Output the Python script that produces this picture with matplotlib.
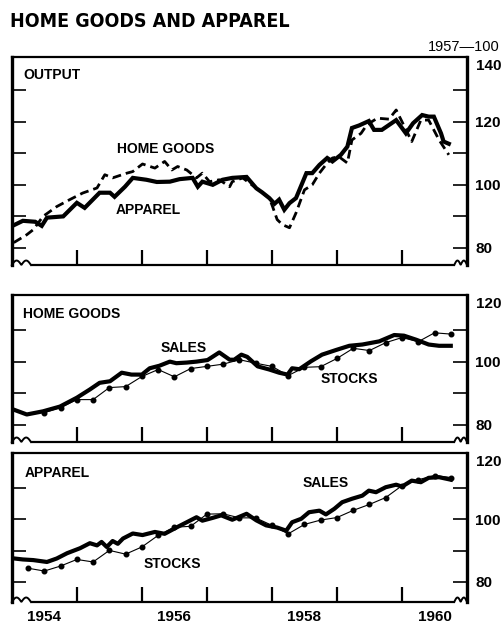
import numpy as np
import matplotlib
matplotlib.use("Agg")
import matplotlib.pyplot as plt
from matplotlib.ticker import FixedLocator, NullFormatter

plt.rcParams["font.family"] = ["Liberation Sans", "DejaVu Sans"]

# ---- data (index, 1957 = 100) ----
out_apparel_t = [1954.05, 1954.17, 1954.36, 1954.46, 1954.54, 1954.79, 1955.00, 1955.12,
                 1955.35, 1955.51, 1955.58, 1955.74, 1955.86, 1956.07, 1956.23, 1956.43,
                 1956.58, 1956.78, 1956.86, 1956.93, 1957.09, 1957.24, 1957.39, 1957.61,
                 1957.76, 1957.85, 1957.96, 1958.04, 1958.11, 1958.19, 1958.27, 1958.37,
                 1958.53, 1958.62, 1958.73, 1958.85, 1958.93, 1959.06, 1959.16, 1959.23,
                 1959.34, 1959.49, 1959.57, 1959.69, 1959.91, 1960.06, 1960.17, 1960.31,
                 1960.41, 1960.49, 1960.60, 1960.64, 1960.72]
out_apparel = [87.4, 88.6, 88.3, 87.0, 89.6, 90.0, 94.3, 92.7,
               97.5, 97.5, 96.2, 99.4, 102.2, 101.6, 100.9, 101.0,
               101.8, 102.2, 99.4, 101.0, 100.0, 101.6, 102.2, 102.5,
               98.9, 97.6, 95.8, 94.0, 95.3, 92.1, 94.2, 95.8,
               103.7, 103.7, 106.3, 108.5, 107.4, 109.5, 112.1, 118.0,
               118.8, 120.2, 117.4, 117.4, 120.5, 116.3, 119.5, 122.1,
               121.6, 121.6, 116.3, 113.7, 113.0]

out_home_t = [1954.03, 1954.23, 1954.33, 1954.48, 1954.69, 1954.89, 1955.09, 1955.31,
              1955.43, 1955.55, 1955.77, 1955.86, 1956.01, 1956.20, 1956.35, 1956.46,
              1956.55, 1956.69, 1956.84, 1956.93, 1957.04, 1957.19, 1957.35, 1957.39,
              1957.55, 1957.76, 1957.96, 1958.01, 1958.08, 1958.16, 1958.27, 1958.37,
              1958.50, 1958.62, 1958.73, 1958.85, 1958.93, 1959.03, 1959.16, 1959.23,
              1959.37, 1959.46, 1959.62, 1959.80, 1959.91, 1960.00, 1960.15, 1960.29,
              1960.41, 1960.57, 1960.72]
out_home = [81.7, 84.2, 85.8, 90.0, 93.1, 95.3, 97.4, 99.0,
            103.2, 102.2, 103.7, 104.2, 106.6, 105.3, 107.4, 104.7,
            105.8, 104.7, 102.2, 103.7, 101.0, 101.6, 99.4, 101.0,
            102.2, 98.9, 95.8, 93.1, 89.0, 87.4, 86.4, 91.1,
            98.4, 100.0, 103.7, 106.9, 108.5, 108.9, 106.9, 114.2,
            116.3, 119.0, 121.1, 120.8, 123.7, 120.0, 113.7, 120.5,
            120.5, 114.2, 109.5]

hg_sales_t = [1954.02, 1954.23, 1954.48, 1954.74, 1955.00, 1955.20, 1955.35, 1955.51,
              1955.69, 1955.84, 1956.00, 1956.12, 1956.27, 1956.43, 1956.53, 1956.69,
              1956.84, 1957.01, 1957.19, 1957.35, 1957.42, 1957.53, 1957.62, 1957.78,
              1957.96, 1958.11, 1958.24, 1958.31, 1958.42, 1958.60, 1958.77, 1958.99,
              1959.19, 1959.39, 1959.65, 1959.88, 1960.03, 1960.22, 1960.41, 1960.57,
              1960.75]
hg_sales = [84.9, 83.3, 84.3, 85.8, 88.6, 91.2, 93.3, 93.8,
            96.5, 95.9, 95.9, 97.9, 98.7, 100.0, 99.5, 99.7,
            100.0, 100.5, 102.9, 100.6, 100.6, 102.2, 101.5, 98.5,
            97.5, 96.5, 95.9, 97.9, 97.6, 100.1, 102.2, 103.7,
            105.0, 105.4, 106.4, 108.4, 108.2, 106.9, 105.4, 105.0,
            105.0]

hg_stocks_t = [1954.50, 1954.75, 1955.00, 1955.25, 1955.50, 1955.75, 1956.00, 1956.25,
               1956.50, 1956.75, 1957.00, 1957.25, 1957.50, 1957.75, 1958.00, 1958.25,
               1958.50, 1958.75, 1959.00, 1959.25, 1959.50, 1959.75, 1960.00, 1960.25,
               1960.50, 1960.75]
hg_stocks = [83.9, 85.5, 88.0, 88.0, 91.8, 92.1, 95.3, 97.5,
             95.2, 97.8, 98.5, 99.2, 100.6, 99.5, 98.5, 95.6,
             98.2, 98.4, 101.0, 104.2, 103.5, 106.0, 107.6, 106.3,
             109.1, 108.7]

ap_sales_t = [1954.00, 1954.17, 1954.33, 1954.54, 1954.69, 1954.85, 1955.05, 1955.20,
              1955.31, 1955.38, 1955.46, 1955.55, 1955.63, 1955.71, 1955.86, 1956.01,
              1956.20, 1956.35, 1956.53, 1956.69, 1956.84, 1956.93, 1957.09, 1957.22,
              1957.39, 1957.61, 1957.76, 1957.91, 1958.08, 1958.22, 1958.31, 1958.45,
              1958.57, 1958.73, 1958.83, 1958.96, 1959.08, 1959.23, 1959.39, 1959.49,
              1959.60, 1959.75, 1959.91, 1960.00, 1960.15, 1960.29, 1960.41, 1960.57,
              1960.75]
ap_sales = [87.6, 87.2, 87.0, 86.4, 87.5, 89.2, 90.8, 92.4,
            91.7, 92.8, 91.2, 93.1, 92.2, 93.9, 95.5, 95.0,
            96.0, 95.4, 97.4, 99.1, 100.7, 99.6, 100.5, 101.3,
            99.9, 101.8, 99.7, 98.1, 97.4, 96.4, 99.1, 100.2,
            102.3, 102.8, 101.6, 103.4, 105.5, 106.6, 107.6, 109.2,
            108.7, 110.3, 111.1, 110.5, 112.4, 111.9, 113.3, 113.5,
            112.7]

ap_stocks_t = [1954.25, 1954.50, 1954.75, 1955.00, 1955.25, 1955.50, 1955.75, 1956.00,
               1956.25, 1956.50, 1956.75, 1957.00, 1957.25, 1957.50, 1957.75, 1958.00,
               1958.25, 1958.50, 1958.75, 1959.00, 1959.25, 1959.50, 1959.75, 1960.00,
               1960.25, 1960.50, 1960.75]
ap_stocks = [84.4, 83.5, 85.1, 87.2, 86.4, 90.1, 88.9, 91.2,
             94.9, 97.5, 97.8, 101.7, 101.8, 100.5, 100.5, 98.1,
             95.4, 98.4, 99.8, 100.6, 102.9, 104.8, 107.0, 110.8,
             112.7, 114.0, 113.4]

year_ticks = [1955, 1956, 1957, 1958, 1959, 1960]
year_labels = ["1954", "1956", "1958", "1960"]


def style_panel(ax, ylim, major, minor, top_label, top_label_y, show_years=False):
    ax.set_xlim(1954.0, 1961.0)
    ax.set_ylim(*ylim)
    for side in ("left", "right"):
        ax.spines[side].set_linewidth(2.4)
    ax.spines["top"].set_linewidth(1.6)
    ax.spines["bottom"].set_visible(False)

    ax.yaxis.set_major_locator(FixedLocator(major))
    ax.yaxis.set_minor_locator(FixedLocator(minor))
    ax.tick_params(axis="y", which="both", direction="in", left=True, right=True,
                   labelleft=False, labelright=True, length=10, width=1.2, pad=6)
    for lab in ax.get_yticklabels():
        lab.set_fontweight("bold")
        lab.set_fontsize(11)
    ax.text(1.0, top_label_y, top_label, transform=ax.get_yaxis_transform(),
            ha="left", va="center", fontsize=11, fontweight="bold")
    # push the extra top label off the spine like the tick labels
    ax.texts[-1].set_x(1.0 + 8.5 / (ax.get_position().width * 503))

    ax.xaxis.set_major_locator(FixedLocator(year_ticks))
    ax.xaxis.set_major_formatter(NullFormatter())
    ax.tick_params(axis="x", which="major", direction="in", bottom=True, top=False,
                   length=11, width=1.6)
    if show_years:
        ax.xaxis.set_minor_locator(FixedLocator([1954.5, 1956.5, 1958.5, 1960.5]))
        ax.set_xticklabels(year_labels, minor=True)
        ax.tick_params(axis="x", which="minor", length=0, pad=6, labelsize=11)
        for lab in ax.get_xticklabels(minor=True):
            lab.set_fontweight("bold")
    else:
        ax.xaxis.set_minor_locator(FixedLocator([]))

    # bottom line with break marks at both ends
    h_px = ax.get_position().height * 623
    hump = 4.5 / h_px
    ax.plot([0.042, 0.972], [0, 0], transform=ax.transAxes, color="black",
            lw=1.6, clip_on=False, solid_capstyle="butt")
    wl = np.linspace(0.0, 0.042, 40)
    ax.plot(wl, hump * np.abs(np.sin(np.pi * 2 * wl / 0.042)), transform=ax.transAxes,
            color="black", lw=1.4, clip_on=False)
    wr = np.linspace(0.972, 1.0, 30)
    ax.plot(wr, hump * np.abs(np.sin(np.pi * 2 * (wr - 0.972) / 0.028)),
            transform=ax.transAxes, color="black", lw=1.4, clip_on=False)


fig = plt.figure(figsize=(5.03, 6.23), dpi=100)
ax1 = fig.add_axes([0.0235, 0.5746, 0.905, 0.334])
ax2 = fig.add_axes([0.0235, 0.2905, 0.905, 0.236])
ax3 = fig.add_axes([0.0235, 0.0337, 0.905, 0.239])

label_kw = dict(fontsize=10, fontweight="bold")

# output panel
ax1.plot(out_home_t, out_home, color="black", lw=2.0, dashes=(3.2, 1.8))
ax1.plot(out_apparel_t, out_apparel, color="black", lw=3.0, solid_joinstyle="miter")
style_panel(ax1, (74.6, 140.5), [80, 100, 120], [90, 110, 130], "140", 137.6)
ax1.text(1954.17, 134.8, "OUTPUT", ha="left", va="center", **label_kw)
ax1.text(1956.37, 111.4, "HOME GOODS", ha="center", va="center", **label_kw)
ax1.text(1956.1, 92.1, "APPAREL", ha="center", va="center", **label_kw)

# home goods panel
ax2.plot(hg_stocks_t, hg_stocks, color="black", lw=0.8, marker="o", ms=3.3)
ax2.plot(hg_sales_t, hg_sales, color="black", lw=3.0)
style_panel(ax2, (74.6, 121.05), [80, 100], [90, 110], "120", 118.2)
ax2.text(1954.17, 115.1, "HOME GOODS", ha="left", va="center", **label_kw)
ax2.text(1956.64, 104.4, "SALES", ha="center", va="center", **label_kw)
ax2.text(1959.19, 94.6, "STOCKS", ha="center", va="center", **label_kw)

# apparel panel
ax3.plot(ap_stocks_t, ap_stocks, color="black", lw=0.8, marker="o", ms=3.3)
ax3.plot(ap_sales_t, ap_sales, color="black", lw=3.0)
style_panel(ax3, (73.6, 121.2), [80, 100], [90, 110], "120", 118.3, show_years=True)
ax3.text(1954.2, 115.0, "APPAREL", ha="left", va="center", **label_kw)
ax3.text(1958.83, 111.8, "SALES", ha="center", va="center", **label_kw)
ax3.text(1956.47, 85.7, "STOCKS", ha="center", va="center", **label_kw)

fig.text(10 / 503, 0.966, "HOME GOODS AND APPAREL", ha="left", va="center",
         fontsize=14, fontweight="bold", fontstretch="condensed",
         family=["DejaVu Sans"])
fig.text(500 / 503, 0.9135, "1957\u2014100", ha="right", va="bottom", fontsize=10.5)

fig.savefig("out.png", dpi=100)
